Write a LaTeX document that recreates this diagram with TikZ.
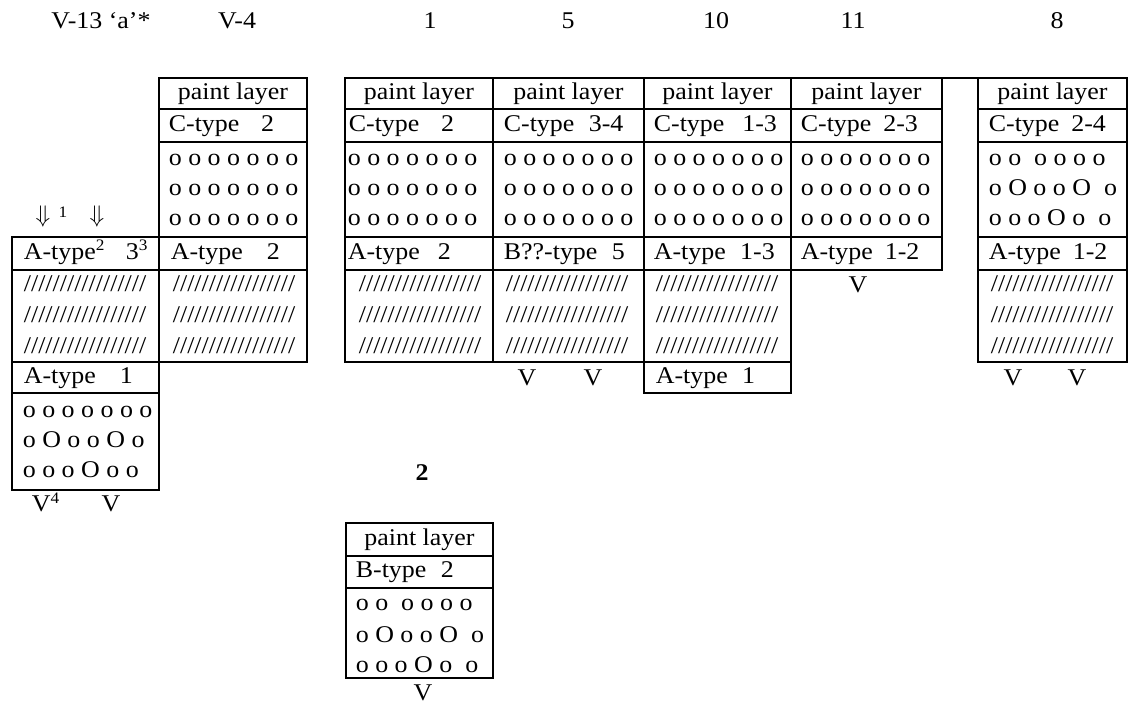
\documentclass[tikz,border=0pt]{standalone}
\usepackage{fontspec}
\setmainfont{Liberation Serif}[FakeStretch=1.08]
\newcommand\slashrow{/////////////////}
\newcommand\orow{o o o o o o o}
\begin{document}
\fontsize{12}{14}\selectfont
\begin{tikzpicture}[x=0.5pt,y=-0.5pt,line width=0.85pt]
\tikzset{
  txt/.style={anchor=west,inner sep=0pt,text height=0.7em,text depth=0.22em},
  ctr/.style={anchor=center,inner sep=0pt,text height=0.7em,text depth=0.22em},
  hatch/.style={txt},
}
\useasboundingbox (0,0) rectangle (1128,705);

% ---- headings
\node[ctr] (t13) at (101,23) {V-13 ‘a’*};
\node[ctr] (t4)  at (237,23) {V-4};
\node[ctr] (t1)  at (430,23) {1};
\node[ctr] (t5)  at (568,23) {5};
\node[ctr] (t10) at (716,23) {10};
\node[ctr] (t11) at (853,23) {11};
\node[ctr] (t8)  at (1057,23) {8};

% ---- frames
% V-4
\draw (159,78) rectangle (307,362);
\foreach \y in {109,142,237,270} \draw (159,\y) -- (307,\y);
% V-13
\draw (12,237) rectangle (159,490);
\foreach \y in {270,362,393} \draw (12,\y) -- (159,\y);
% columns 1, 5, 10, 11
\draw (345,78) -- (1127,78);
\draw (345,78) rectangle (493,362);
\draw (493,78) rectangle (644,362);
\draw (644,78) rectangle (791,393);
\draw (791,78) rectangle (942,270);
\foreach \y in {109,142,237,270} \draw (345,\y) -- (942,\y);
\draw (644,362) -- (791,362);
% column 8
\draw (978,78) rectangle (1127,362);
\foreach \y in {109,142,237,270} \draw (978,\y) -- (1127,\y);
% lower block
\draw (346,523) rectangle (493,678);
\foreach \y in {556,588} \draw (346,\y) -- (493,\y);

% ---- V-13
\node[ctr] (ar1) at (43,217) {$\Downarrow$};
\node[ctr] (ar1n) at (63,212) {\footnotesize 1};
\node[ctr] (ar2) at (97,217) {$\Downarrow$};
\node[txt] (la) at (23,253.5) {A-type\textsuperscript{2}\hspace{0.85em}3\textsuperscript{3}};
\foreach \y/\k in {286/1,317/2,348/3} \node[hatch] (lh\k) at (23,\y) {\slashrow};
\node[txt] (la1) at (23,377.5) {A-type\hspace{1em}1};
\node[txt] (lo1) at (22,412) {\orow};
\node[txt] (lo2) at (22,442) {o O o o O o};
\node[txt] (lo3) at (22,472) {o o o O o o};
\node[txt] (lv1) at (31,506) {V\textsuperscript{4}};
\node[ctr] (lv2) at (111,506) {V};

% ---- V-4
\node[ctr] (ap) at (233,93.5) {paint layer};
\node[txt] (ac) at (168,125.5) {C-type\hspace{0.9em}2};
\foreach \y/\k in {160/1,190/2,220/3} \node[txt] (ao\k) at (168,\y) {\orow};
\node[txt] (aa) at (170,253.5) {A-type\hspace{1em}2};
\foreach \y/\k in {286/1,317/2,348/3} \node[hatch] (ah\k) at (172,\y) {\slashrow};

% ---- column 1
\node[ctr] (bp) at (419,93.5) {paint layer};
\node[txt] (bc) at (348,125.5) {C-type\hspace{0.9em}2};
\foreach \y/\k in {160/1,190/2,220/3} \node[txt] (bo\k) at (347,\y) {\orow};
\node[txt] (ba) at (347,253.5) {A-type\hspace{0.75em}2};
\foreach \y/\k in {286/1,317/2,348/3} \node[hatch] (bh\k) at (358,\y) {\slashrow};

% ---- column 5
\node[ctr] (cp) at (568.5,93.5) {paint layer};
\node[txt] (cc) at (503,125.5) {C-type\hspace{0.6em}3-4};
\foreach \y/\k in {160/1,190/2,220/3} \node[txt] (co\k) at (503,\y) {\orow};
\node[txt] (ca) at (503,253.5) {B??-type\hspace{0.6em}5};
\foreach \y/\k in {286/1,317/2,348/3} \node[hatch] (ch\k) at (505,\y) {\slashrow};
\node[ctr] (cv1) at (527,380) {V};
\node[ctr] (cv2) at (593,380) {V};

% ---- column 10
\node[ctr] (dp) at (717.5,93.5) {paint layer};
\node[txt] (dc) at (653,125.5) {C-type\hspace{0.75em}1-3};
\foreach \y/\k in {160/1,190/2,220/3} \node[txt] (do\k) at (653,\y) {\orow};
\node[txt] (da) at (653,253.5) {A-type\hspace{0.6em}1-3};
\foreach \y/\k in {286/1,317/2,348/3} \node[hatch] (dh\k) at (655,\y) {\slashrow};
\node[txt] (da1) at (655,377.5) {A-type\hspace{0.6em}1};

% ---- column 11
\node[ctr] (ep) at (866.5,93.5) {paint layer};
\node[txt] (ec) at (800,125.5) {C-type\hspace{0.5em}2-3};
\foreach \y/\k in {160/1,190/2,220/3} \node[txt] (eo\k) at (800,\y) {\orow};
\node[txt] (ea) at (800,253.5) {A-type\hspace{0.5em}1-2};
\node[ctr] (ev) at (858,287) {V};

% ---- column 8
\node[ctr] (fp) at (1052.5,93.5) {paint layer};
\node[txt] (fc) at (988,125.5) {C-type\hspace{0.5em}2-4};
\node[txt] (fo1) at (988,160) {o o\ \ o o o o};
\node[txt] (fo2) at (988,190) {o O o o O\ \ o};
\node[txt] (fo3) at (988,220) {o o o O o\ \ o};
\node[txt] (fa) at (988,253.5) {A-type\hspace{0.5em}1-2};
\foreach \y/\k in {286/1,317/2,348/3} \node[hatch] (fh\k) at (990,\y) {\slashrow};
\node[ctr] (fv1) at (1013,380) {V};
\node[ctr] (fv2) at (1077,380) {V};

% ---- lower block
\node[ctr] (g2) at (422,475) {\bfseries 2};
\node[ctr] (gp) at (419.5,539.5) {paint layer};
\node[txt] (gb) at (355,572) {B-type\hspace{0.6em}2};
\node[txt] (go1) at (355,605) {o o\ \ o o o o};
\node[txt] (go2) at (355,637) {o O o o O\ \ o};
\node[txt] (go3) at (355,667) {o o o O o\ \ o};
\node[ctr] (gv) at (423,695) {V};
\end{tikzpicture}
\end{document}
